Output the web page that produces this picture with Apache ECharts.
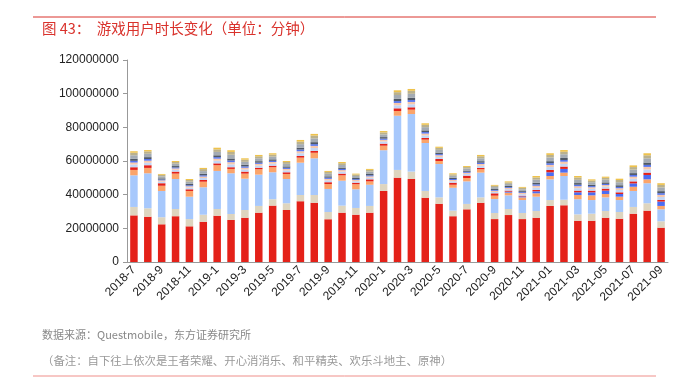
<!DOCTYPE html>
<html><head><meta charset="utf-8">
<script src="https://cdn.jsdelivr.net/npm/echarts@6/dist/echarts.min.js"></script>
<style>html,body{margin:0;padding:0;background:#fff}#c{width:681px;height:384px}</style>
</head><body><div id="c"></div>
<script>
const months = ["2018-7","2018-8","2018-9","2018-10","2018-11","2018-12",
"2019-1","2019-2","2019-3","2019-4","2019-5","2019-6","2019-7","2019-8","2019-9","2019-10","2019-11","2019-12",
"2020-1","2020-2","2020-3","2020-4","2020-5","2020-6","2020-7","2020-8","2020-9","2020-10","2020-11","2020-12",
"2021-01","2021-02","2021-03","2021-04","2021-05","2021-06","2021-07","2021-08","2021-09"];
// values in millions of minutes (scaled below)
const wzry = [27.7,26.9,22.4,27.2,21.2,23.9,27.5,25.0,26.3,29.3,33.5,30.9,36.1,35.2,25.4,29.3,28.1,29.3,42.2,50.1,49.3,38.2,34.6,27.2,31.3,35.2,25.5,27.9,25.5,26.3,33.3,33.7,24.5,24.5,26.3,25.7,28.7,30.5,20.4];
const kxxxl = [5.0,5.0,4.2,4.3,4.3,4.2,4.0,3.5,4.6,4.0,3.8,4.0,3.7,4.6,4.3,4.2,4.0,4.0,4.1,4.6,4.4,4.0,3.8,3.3,3.2,3.2,3.6,3.6,3.6,4.0,3.5,3.3,3.8,4.2,4.0,4.0,4.0,4.4,3.8];
const hpjy = [18.8,20.8,15.6,17.8,13.3,16.3,22.6,24.2,18.6,18.6,16.0,14.4,19.2,21.8,13.7,14.8,11.1,12.6,20.1,32.2,34.2,28.5,19.8,13.6,13.4,14.7,8.3,8.1,7.7,8.5,12.3,14.1,9.0,8.1,8.1,7.1,9.5,11.9,7.1];
const hlddz = [3.2,3.2,3.1,3.2,3.4,3.3,3.4,2.6,3.0,3.2,3.0,3.0,3.0,3.3,2.9,3.2,3.0,2.0,2.7,2.8,2.6,2.0,1.8,1.8,2.0,2.0,2.0,1.6,1.6,2.0,2.0,2.0,2.5,2.8,2.0,2.0,2.5,2.3,2.0];
const ys = [0,0,0,0,0,0,0,0,0,0,0,0,0,0,0,0,0,0,0,0,0,0,0,0,0,0,0,0.6,0.6,1.2,2.2,2.2,1.6,1.8,2.0,1.6,2.0,2.6,2.6];
const o1 = [1.6,1.6,1.5,1.2,1.0,1.0,1.1,1.0,1.2,0.9,0.9,1.0,1.0,1.1,1.1,1.0,0.9,1.2,1.2,1.6,1.4,1.0,1.2,1.2,1.4,0.8,1.4,0.6,0.4,0.8,1.4,1.4,1.0,1.0,1.2,1.0,1.2,1.4,1.0];
const o2 = [1.6,1.5,0.9,1.1,1.0,1.2,1.6,1.7,1.3,1.3,1.2,1.1,1.6,1.7,1.1,1.2,0.9,1.0,1.3,1.8,1.8,1.5,1.2,0.9,1.0,1.3,0.8,0.9,0.9,1.4,1.7,1.6,1.5,1.1,1.2,1.4,1.6,1.9,1.7];
const o3 = [1.2,1.2,0.8,0.8,0.8,0.9,1.2,1.3,1.0,1.0,1.0,0.9,1.2,1.3,0.9,0.9,0.7,0.8,1.0,1.4,1.4,1.1,1.0,0.7,0.7,1.0,0.7,0.7,0.7,1.1,1.3,1.3,1.1,0.9,0.9,1.0,1.2,1.5,1.3];
const o4 = [1.0,1.0,0.5,0.6,0.6,0.7,0.9,1.0,0.8,0.7,0.7,0.7,1.0,1.0,0.7,0.7,0.5,0.6,0.7,1.1,1.1,0.9,0.7,0.6,0.6,0.8,0.5,0.5,0.5,0.8,1.0,1.0,0.9,0.7,0.7,0.8,1.0,1.2,1.0];
const o5 = [1.2,1.1,0.7,0.8,0.8,0.9,1.1,1.2,1.0,0.9,0.9,0.8,1.1,1.2,0.8,0.8,0.7,0.8,0.9,1.3,1.3,1.0,0.9,0.7,0.7,0.9,0.6,0.7,0.6,1.0,1.2,1.2,1.0,0.8,0.9,1.0,1.1,1.4,1.2];
const o6 = [2.1,2.0,1.2,1.4,1.3,1.6,2.0,2.2,1.7,1.7,1.6,1.5,2.1,2.2,1.5,1.5,1.2,1.4,1.6,2.3,2.4,1.9,1.6,1.2,1.2,1.7,1.1,1.2,1.1,1.8,2.2,2.2,1.9,1.5,1.6,1.8,2.1,2.5,2.2];
const o7 = [1.5,1.4,0.9,1.0,1.0,1.2,1.5,1.7,1.3,1.2,1.2,1.1,1.5,1.7,1.1,1.1,0.9,1.0,1.2,1.7,1.8,1.4,1.2,0.9,0.9,1.2,0.8,0.9,0.9,1.3,1.5,1.5,1.4,1.0,1.1,1.3,1.5,1.8,1.5];
const o8 = [0.9,0.8,0.5,0.6,0.6,0.7,1.0,1.0,0.8,0.8,0.8,0.6,1.0,1.0,0.6,0.7,0.5,0.6,0.8,1.1,1.1,0.9,0.7,0.6,0.6,0.8,0.5,0.6,0.5,0.9,1.0,1.0,0.9,0.7,0.7,0.8,1.0,1.2,1.0];
const yTicks = [0,20000000,40000000,60000000,80000000,100000000,120000000];

const M = 1000000;
const layers = [
  {name:"王者荣耀", data:wzry, color:"#e42119"},
  {name:"开心消消乐", data:kxxxl, color:"#ded5bf"},
  {name:"和平精英", data:hpjy, color:"#a7c8fc"},
  {name:"欢乐斗地主", data:hlddz, color:"#fba46a"},
  {name:"原神", data:ys, color:"#4c6cf2"},
  {name:"o1", data:o1, color:"#e42119"},
  {name:"o2", data:o2, color:"#c3d7f6"},
  {name:"o3", data:o3, color:"#f7c8ac"},
  {name:"o4", data:o4, color:"#5574ef"},
  {name:"o5", data:o5, color:"#4f5866"},
  {name:"o6", data:o6, color:"#a4abb3"},
  {name:"o7", data:o7, color:"#bab18d"},
  {name:"o8", data:o8, color:"#eec24c"}
];
const chart = echarts.init(document.getElementById('c'), null, {renderer:'canvas'});
const series = layers.map(l => ({
  name:l.name, type:'bar', stack:'t', barWidth:7.5,
  data:l.data.map(v => Math.round(v*M)),
  itemStyle:{color:l.color}, animation:false
}));
chart.setOption({
  animation:false,
  grid:{left:127, right:13, top:60, bottom:122},
  xAxis:{type:'category', data:months,
    axisLine:{lineStyle:{color:'#999'}},
    axisTick:{interval:0, length:4, lineStyle:{color:'#999'}},
    axisLabel:{interval:1, rotate:45, color:'#222', fontSize:12, fontFamily:'Liberation Sans', margin:6}},
  yAxis:{type:'value', min:yTicks[0], max:yTicks[yTicks.length-1], interval:20000000,
    axisLine:{show:true, lineStyle:{color:'#999'}},
    axisTick:{show:true, length:4, lineStyle:{color:'#999'}},
    splitLine:{show:false},
    axisLabel:{color:'#222', fontSize:12, fontFamily:'Liberation Sans', margin:8, formatter:v => String(v)}},
  series:series,
  graphic:[
    {type:'line', shape:{x1:33,y1:17,x2:656,y2:17}, style:{stroke:'#d9322c', lineWidth:1}},
    {type:'text', left:42, top:21, style:{text:'图 43：  游戏用户时长变化（单位：分钟）', fill:'#d9322c', font:'14.5px "Noto Sans CJK SC"'}},
    {type:'text', left:42, top:329, style:{text:'数据来源：Questmobile，东方证券研究所', fill:'#888', font:'11px "Noto Sans CJK SC"'}},
    {type:'text', left:42, top:355, style:{text:'（备注：自下往上依次是王者荣耀、开心消消乐、和平精英、欢乐斗地主、原神）', fill:'#999', font:'11.4px "Noto Sans CJK SC"'}},
    {type:'line', shape:{x1:33,y1:376,x2:656,y2:376}, style:{stroke:'#ef8f8a', lineWidth:1}}
  ]
});
</script></body></html>
